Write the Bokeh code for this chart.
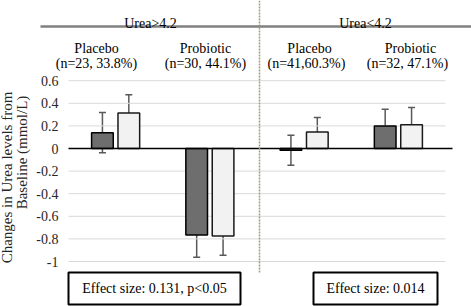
import numpy as np
from bokeh.plotting import figure
from bokeh.models import Range1d, ColumnDataSource, Whisker, TeeHead
from bokeh.core.properties import value
from bokeh.embed import file_html
from bokeh.resources import INLINE

# ---- data ----
strata = ["Urea>4.2", "Urea<4.2"]
groups = ["Placebo", "Probiotic", "Placebo", "Probiotic"]
group_n = ["(n=23, 33.8%)", "(n=30, 44.1%)", "(n=41,60.3%)", "(n=32, 47.1%)"]
dark_vals = [0.14, -0.765, -0.015, 0.20]
dark_err = [0.178, 0.197, 0.133, 0.148]
light_vals = [0.315, -0.775, 0.145, 0.21]
light_err = [0.16, 0.17, 0.13, 0.152]
effect_labels = ["Effect size: 0.131, p<0.05", "Effect size: 0.014"]
yticks = [0.6, 0.4, 0.2, 0, -0.2, -0.4, -0.6, -0.8, -1]
ytick_labels = ["0.6", "0.4", "0.2", "0", "-0.2", "-0.4", "-0.6", "-0.8", "-1"]
ylabel_lines = ["Changes in Urea levels from", "Baseline (mmol/L)"]

# ---- layout helpers (pixel -> data) ----
X0, XS = 68.0, 94.25
Y0, YS = 148.0, 113.0
def X(px): return (px - X0) / XS
def Y(py): return (Y0 - py) / YS

FONT = value("Liberation Serif")
FS = "14px"

p = figure(width=471, height=306,
           x_range=Range1d(X(0), X(471)), y_range=Range1d(Y(306), Y(0)),
           output_backend="svg", toolbar_location=None,
           x_axis_location=None, y_axis_location=None,
           min_border=0, margin=(0, 0, 0, 0))
p.grid.visible = False
p.outline_line_color = None
p.background_fill_color = "white"
p.border_fill_color = "white"

n = len(groups)
centers = np.arange(n) + 0.5
off, bw = 0.14, 0.23

# gridlines
p.segment(x0=[X(68)] * len(yticks), x1=[X(445)] * len(yticks), y0=yticks, y1=yticks,
          line_color="#d9d9d9", line_width=1)

# tick labels
p.text(x=[X(58)] * len(yticks), y=yticks, text=ytick_labels, text_font=FONT,
       text_font_size=FS, text_align="right", text_baseline="middle", text_color="#262626")

# bars
dsrc = ColumnDataSource(dict(x=centers - off, top=dark_vals,
                             upper=np.array(dark_vals) + np.array(dark_err),
                             lower=np.array(dark_vals) - np.array(dark_err)))
lsrc = ColumnDataSource(dict(x=centers + off, top=light_vals,
                             upper=np.array(light_vals) + np.array(light_err),
                             lower=np.array(light_vals) - np.array(light_err)))
p.vbar(x="x", top="top", bottom=0, width=bw, source=dsrc,
       fill_color="#6e6e6e", line_color="#000000", line_width=1.5)
p.vbar(x="x", top="top", bottom=0, width=bw, source=lsrc,
       fill_color="#f2f2f2", line_color="#1a1a1a", line_width=1.5)

# zero line
p.segment(x0=[X(68)], x1=[X(452)], y0=[0], y1=[0], line_color="#000000", line_width=1.5)

for src in (dsrc, lsrc):
    w = Whisker(base="x", upper="upper", lower="lower", source=src,
                line_color="#595959", line_width=1.5,
                upper_head=TeeHead(size=7, line_color="#595959", line_width=1.5),
                lower_head=TeeHead(size=7, line_color="#595959", line_width=1.5))
    p.add_layout(w)

# divider
p.segment(x0=[X(259)], x1=[X(259)], y0=[Y(0)], y1=[Y(272)],
          line_color="#a39c6e", line_width=1.5, line_dash="2 1")

# header lines
p.segment(x0=[X(40), X(259)], x1=[X(259), X(471)], y0=[Y(26)] * 2, y1=[Y(26)] * 2,
          line_color="#808080", line_width=2.5)

# header texts
p.text(x=[X(150), X(365)], y=[Y(23)] * 2, text=strata, text_font=FONT, text_font_size=FS,
       text_align="center", text_baseline="alphabetic", text_color="#000000")
gx = [X(96), X(205), X(309), X(410)]
nx = [X(96), X(205), X(306), X(407)]
p.text(x=gx, y=[Y(48)] * n, text=groups, text_font=FONT, text_font_size=FS,
       text_align="center", text_baseline="alphabetic", text_color="#000000")
p.text(x=nx, y=[Y(63)] * n, text=group_n, text_font=FONT, text_font_size=FS,
       text_align="center", text_baseline="alphabetic", text_color="#000000")

# y axis label
p.text(x=[X(6), X(21)], y=[Y(177), Y(152)], text=ylabel_lines, angle=np.pi / 2,
       text_font=FONT, text_font_size="15px", text_align="center", text_baseline="middle",
       text_color="#262626")

# effect size boxes
p.quad(left=[X(68), X(313)], right=[X(240), X(437)], top=[Y(272)] * 2, bottom=[Y(304)] * 2,
       fill_color="white", line_color="#000000", line_width=2)
p.text(x=[X(154), X(375)], y=[Y(288)] * 2, text=effect_labels, text_font=FONT,
       text_font_size=FS, text_align="center", text_baseline="middle", text_color="#000000")

open("out.html", "w").write(file_html(p, INLINE))
